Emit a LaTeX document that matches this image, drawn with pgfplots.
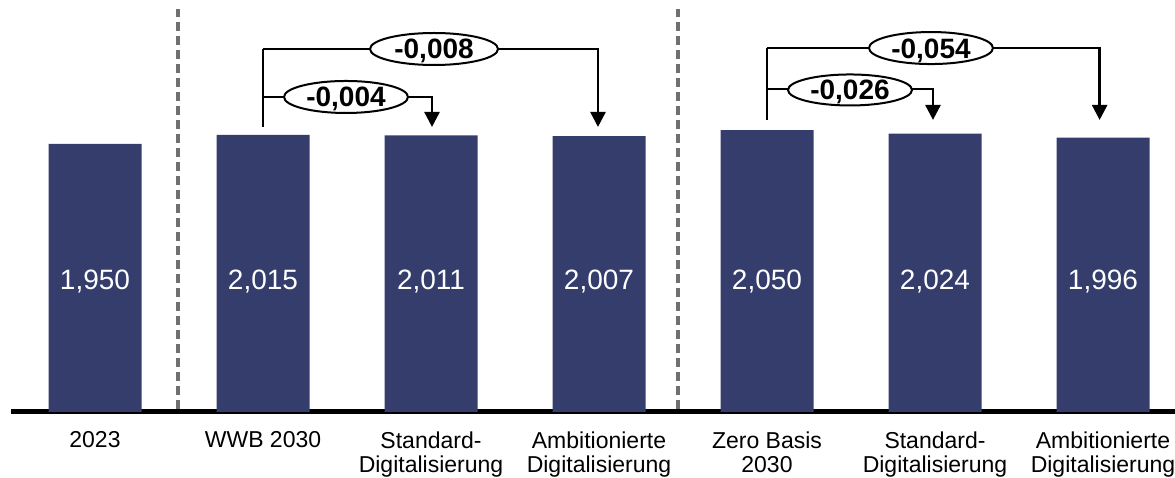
\documentclass[border=0pt]{standalone}
\usepackage{fontspec}
\setmainfont{Liberation Sans}
\usepackage{pgfplots}
\pgfplotsset{compat=1.18}
\usetikzlibrary{arrows.meta}
\definecolor{barblue}{HTML}{343D6B}
\definecolor{dashgray}{HTML}{707070}

\begin{document}
\begin{tikzpicture}[
  diff/.style={font=\bfseries\fontsize{28}{30}\selectfont, text height=20pt, text depth=0pt, inner sep=0pt},
  brk/.style={line width=2.6pt, line join=miter},
  arr/.style={brk, -{Triangle[length=15pt,width=15pt]}},
  oval/.style={line width=2pt, fill=white},
]
\begin{axis}[
  scale only axis, width=1164pt, height=412pt,
  xmin=-0.5, xmax=6.4286, ymin=0, ymax=2.9964,
  axis x line=bottom, axis y line=none,
  x axis line style={line width=5pt, -},
  ytick=\empty,
  xtick={0,...,6}, xtick style={draw=none},
  xticklabels={2023, WWB 2030, {Standard-\\Digitalisierung}, {Ambitionierte\\Digitalisierung},
    {Zero Basis\\2030}, {Standard-\\Digitalisierung}, {Ambitionierte\\Digitalisierung}},
  xticklabel style={align=center, anchor=north, inner sep=0pt, yshift=-15pt,
    font=\fontsize{23}{24.5}\selectfont},
  ybar, bar width=93pt,
  clip=false,
  nodes near coords={\pgfmathprintnumber[fixed,fixed zerofill,precision=3,use comma,assume math mode=true]{\pgfplotspointmeta}},
  visualization depends on={rawy \as \rawy},
  every node near coord/.append style={anchor=center, text=white,
    font=\fontsize{28}{30}\selectfont, yshift={(0.96-\rawy)*137.5pt},
    text height=20pt, text depth=0pt, inner sep=0pt},
]
\addplot[fill=barblue, draw=none] coordinates {
  (0,1.950) (1,2.015) (2,2.011) (3,2.007) (4,2.050) (5,2.024) (6,1.996)
};

% separators
\draw[dashgray, line width=3.5pt, dash pattern=on 9pt off 5pt]
  (axis cs:0.494,0.02) -- (axis cs:0.494,2.93);
\draw[dashgray, line width=3.5pt, dash pattern=on 9pt off 5pt]
  (axis cs:3.47,0.02) -- (axis cs:3.47,2.93);

% differences, group WWB
\draw[brk] (axis cs:1,2.073) -- (axis cs:1,2.640);
\draw[arr] (axis cs:1,2.291) -- (axis cs:2.006,2.291) -- (axis cs:2.006,2.073);
\draw[arr] (axis cs:1,2.640) -- (axis cs:2.994,2.640) -- (axis cs:2.994,2.073);
\draw[oval] (axis cs:1.494,2.291) ellipse [x radius=62pt, y radius=16pt];
\node[diff] at (axis cs:1.494,2.291) {-0,004};
\draw[oval] (axis cs:2.018,2.640) ellipse [x radius=64pt, y radius=16pt];
\node[diff] at (axis cs:2.018,2.640) {-0,008};

% differences, group Zero Basis
\draw[brk] (axis cs:4,2.124) -- (axis cs:4,2.647);
\draw[arr] (axis cs:4,2.349) -- (axis cs:4.988,2.349) -- (axis cs:4.988,2.124);
\draw[arr] (axis cs:4,2.647) -- (axis cs:5.98,2.647) -- (axis cs:5.98,2.124);
\draw[oval] (axis cs:4.494,2.342) ellipse [x radius=62pt, y radius=15.5pt];
\node[diff] at (axis cs:4.494,2.342) {-0,026};
\draw[oval] (axis cs:4.976,2.647) ellipse [x radius=62pt, y radius=16pt];
\node[diff] at (axis cs:4.976,2.647) {-0,054};
\end{axis}
\pgfresetboundingbox
\path (-11pt,-66pt) rectangle (1164pt,412pt);
\end{tikzpicture}
\end{document}
